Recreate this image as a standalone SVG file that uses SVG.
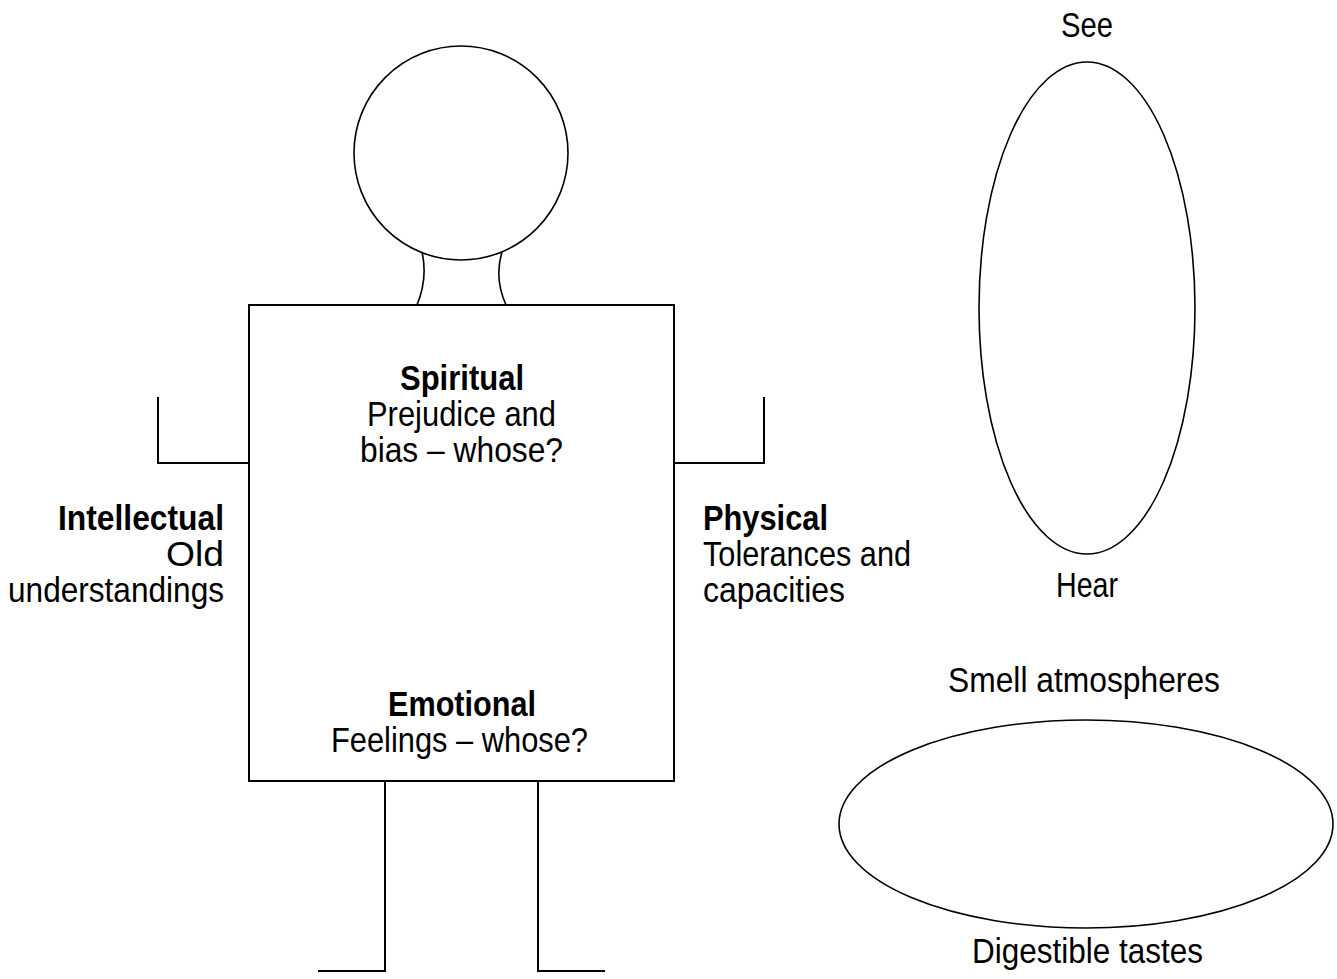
<svg xmlns="http://www.w3.org/2000/svg" width="1337" height="979" viewBox="0 0 1337 979">
<style>
.ln{fill:none;stroke:#000;stroke-width:2;stroke-linecap:butt}
.cv{fill:none;stroke:#000;stroke-width:1.6}
text{font-family:"Liberation Sans Narrow","Liberation Sans",Arial,sans-serif;font-size:35px;fill:#000}
.b{font-weight:bold}
</style>
<rect width="1337" height="979" fill="#fff"/>
<g id="figure">
<g id="head"><circle class="cv" cx="461" cy="153" r="107"/></g>
<g id="neck">
<path class="cv" d="M422,252 Q428,278 417,305"/>
<path class="cv" d="M502,252 Q494,278 506,305"/>
</g>
<g id="body">
<rect class="ln" x="249" y="305" width="425" height="476"/>
<text class="b" x="400" y="390" textLength="124" lengthAdjust="spacingAndGlyphs">Spiritual</text>
<text x="367" y="426" textLength="189" lengthAdjust="spacingAndGlyphs">Prejudice and</text>
<text x="360" y="462" textLength="203" lengthAdjust="spacingAndGlyphs">bias – whose?</text>
<text class="b" x="388" y="716" textLength="148" lengthAdjust="spacingAndGlyphs">Emotional</text>
<text x="331" y="752" textLength="257" lengthAdjust="spacingAndGlyphs">Feelings – whose?</text>
</g>
<g id="left-arm">
<path class="ln" d="M158,397 V463 H249"/>
</g>
<g id="right-arm">
<path class="ln" d="M764,397 V463 H674"/>
</g>
<g id="left-leg"><path class="ln" d="M385,781 V971 H318"/></g>
<g id="right-leg"><path class="ln" d="M538,781 V971 H605"/></g>
<g id="intellectual">
<text class="b" x="58" y="530" textLength="166" lengthAdjust="spacingAndGlyphs">Intellectual</text>
<text x="166" y="566" textLength="58" lengthAdjust="spacingAndGlyphs">Old</text>
<text x="8" y="602" textLength="216" lengthAdjust="spacingAndGlyphs">understandings</text>
</g>
<g id="physical">
<text class="b" x="703" y="530" textLength="125" lengthAdjust="spacingAndGlyphs">Physical</text>
<text x="703" y="566" textLength="208" lengthAdjust="spacingAndGlyphs">Tolerances and</text>
<text x="703" y="602" textLength="142" lengthAdjust="spacingAndGlyphs">capacities</text>
</g>
</g>
<g id="eye-ear">
<ellipse class="cv" cx="1087" cy="308" rx="108" ry="246"/>
<text x="1061" y="37" textLength="52" lengthAdjust="spacingAndGlyphs">See</text>
<text x="1056" y="597" textLength="62" lengthAdjust="spacingAndGlyphs">Hear</text>
</g>
<g id="smell-taste">
<ellipse class="cv" cx="1086" cy="824" rx="247" ry="104"/>
<text x="948" y="692" textLength="272" lengthAdjust="spacingAndGlyphs">Smell atmospheres</text>
<text x="972" y="963" textLength="231" lengthAdjust="spacingAndGlyphs">Digestible tastes</text>
</g>
<g id="connectors"></g>
</svg>
